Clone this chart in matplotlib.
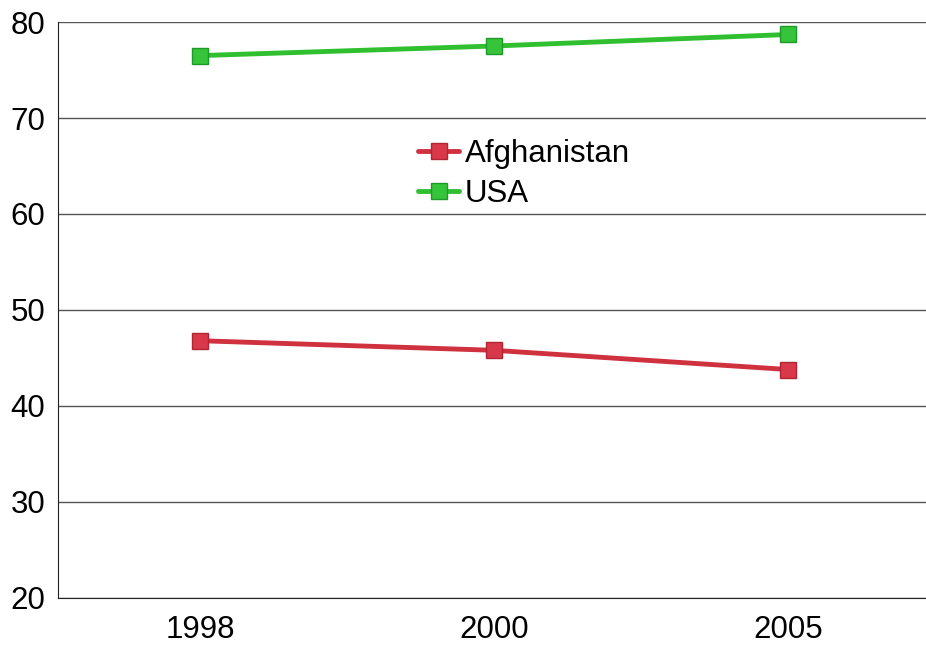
import matplotlib
matplotlib.use("Agg")
import matplotlib.pyplot as plt

plt.rcParams['font.family'] = ['Liberation Sans', 'DejaVu Sans']

years = ["1998", "2000", "2005"]
afghanistan = [46.8, 45.8, 43.8]
usa = [76.5, 77.5, 78.7]

fig = plt.figure(figsize=(9.26, 6.59), dpi=100)
ax = fig.add_axes([0.0626, 0.0926, 0.9374, 0.874])

x = range(len(years))
ax.plot(x, afghanistan, color="#d0313f", lw=3.5, marker="s", ms=11,
        mec="#b02434", mfc="#d8384a", label="Afghanistan", solid_capstyle="round")
ax.plot(x, usa, color="#2fbf2f", lw=3.5, marker="s", ms=11,
        mec="#1f9a2a", mfc="#36c43a", label="USA", solid_capstyle="round")

ax.set_ylim(20, 80)
ax.set_xlim(-0.483, 2.47)
ax.set_yticks(range(20, 81, 10))
ax.set_xticks(list(x))
ax.set_xticklabels(years)
ax.tick_params(labelsize=22.5, length=0)
ax.tick_params(axis="y", pad=9)
ax.tick_params(axis="x", pad=12)

ax.grid(axis="y", color="#555555", lw=1)
ax.set_axisbelow(True)
for s in ["top", "right"]:
    ax.spines[s].set_visible(False)
ax.spines["left"].set_color("#222222")
ax.spines["bottom"].set_color("#222222")

ax.legend(loc="upper left", bbox_to_anchor=(0.415, 0.797), frameon=False,
          fontsize=22.5, handlelength=1.3, handletextpad=0.2, labelspacing=0.32,
          borderpad=0, borderaxespad=0)

fig.savefig("out.png", dpi=100)
